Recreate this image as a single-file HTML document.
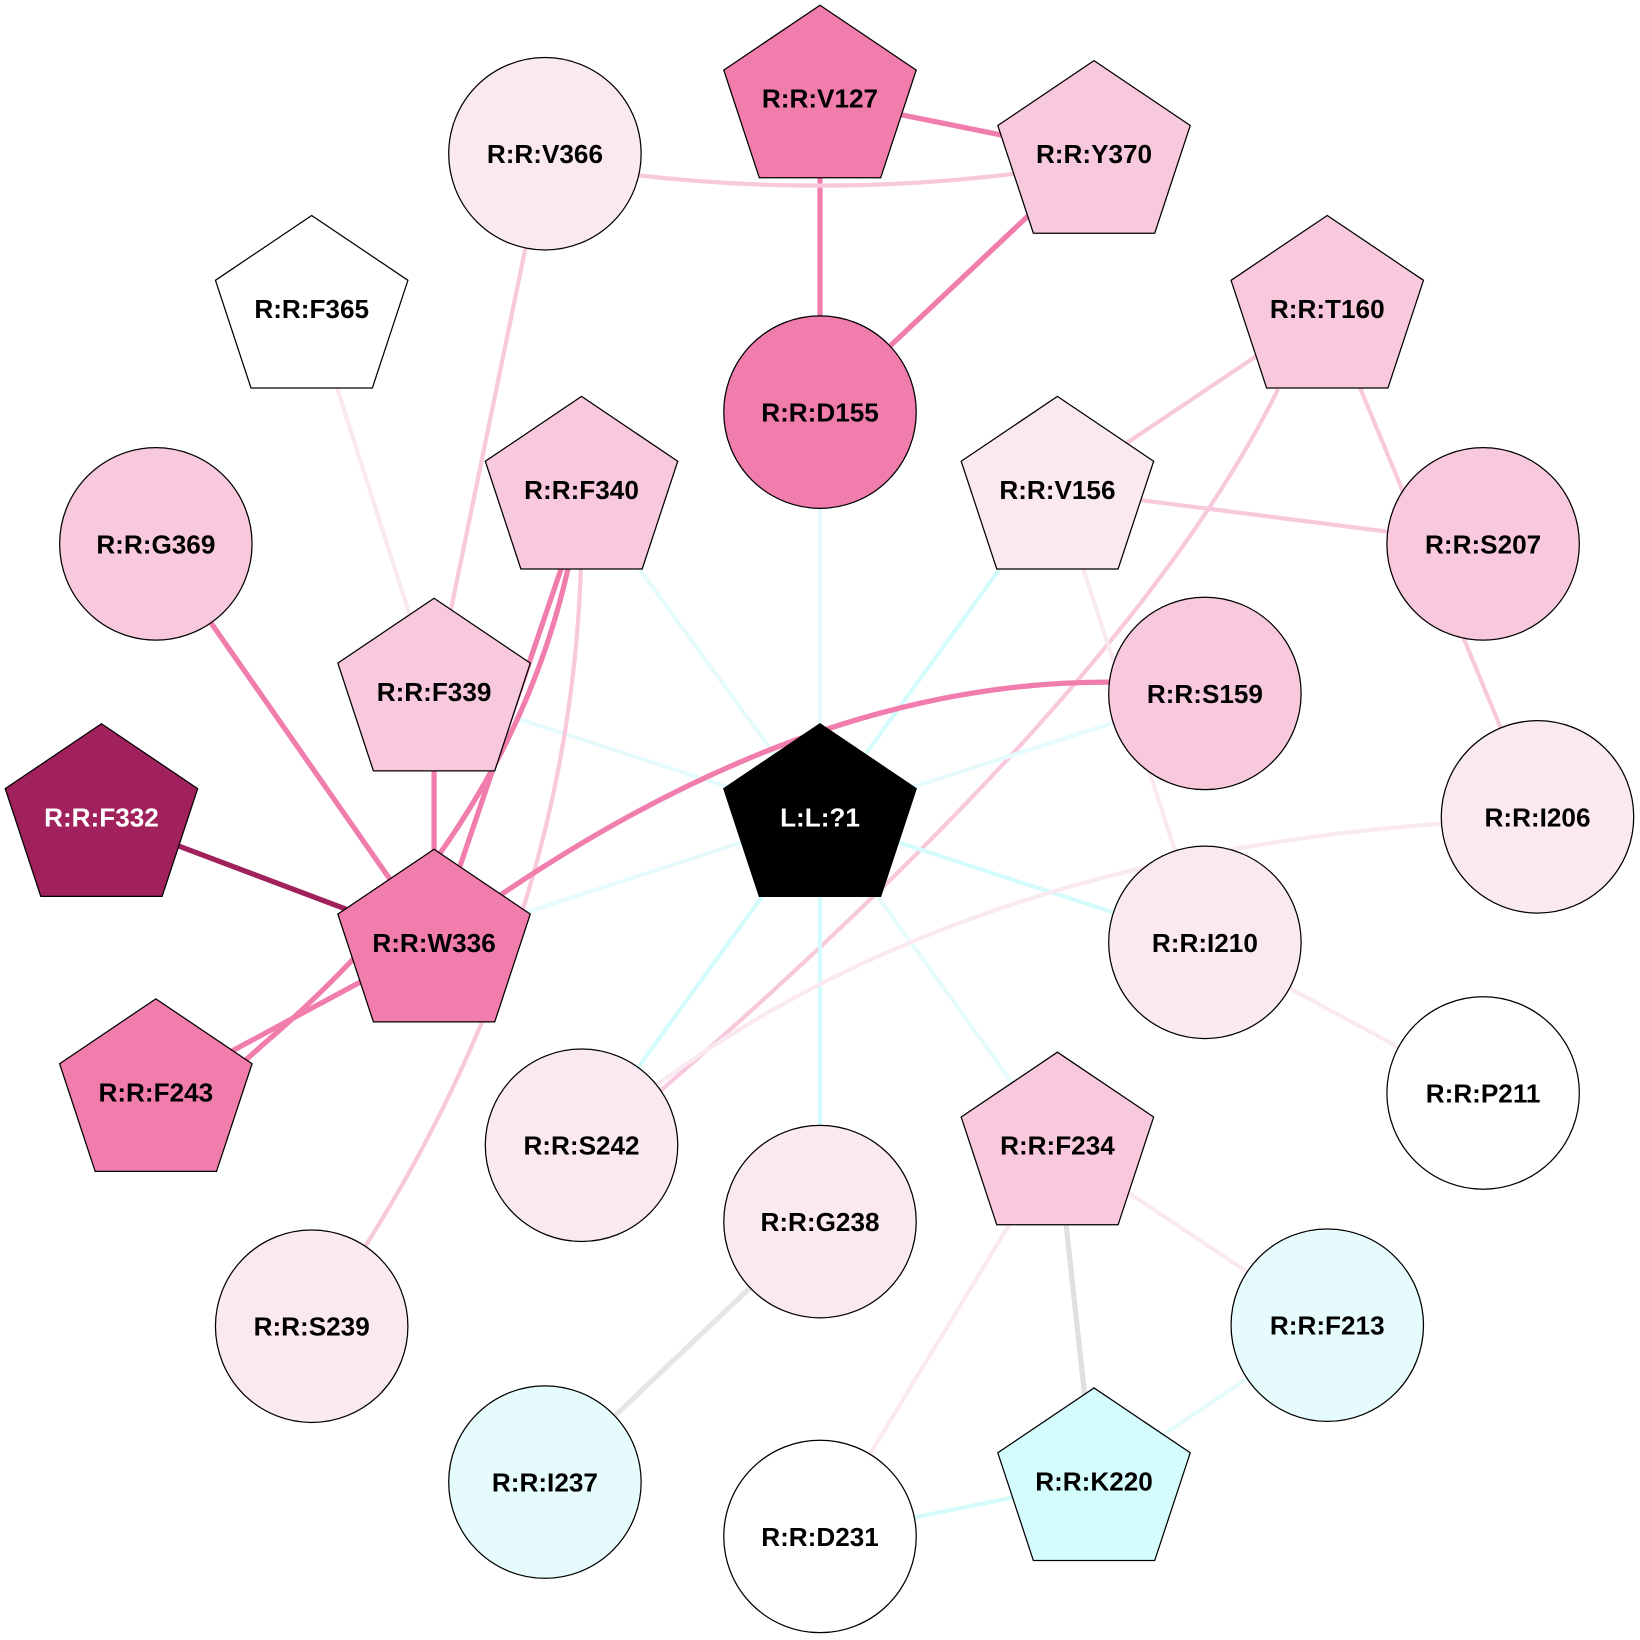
<!DOCTYPE html>
<html><head><meta charset="utf-8"><style>html,body{margin:0;padding:0;background:#fff}svg{display:block}</style></head>
<body>
<svg width="1640" height="1640" viewBox="0 0 1568 1568" xmlns="http://www.w3.org/2000/svg">
<g fill="none" stroke-linecap="butt">
<line x1="784" y1="94" x2="1046" y2="147" stroke="#f07dab" stroke-width="5"/>
<line x1="784" y1="94" x2="784" y2="394" stroke="#f07dab" stroke-width="5"/>
<line x1="1046" y1="147" x2="784" y2="394" stroke="#f07dab" stroke-width="5"/>
<path d="M521,155 Q784,200 1046,155" stroke="#f8c8dc" stroke-width="4"/>
<line x1="521" y1="147" x2="415" y2="661" stroke="#f8c8dc" stroke-width="4"/>
<line x1="298" y1="295" x2="415" y2="661" stroke="#fbe9f1" stroke-width="4"/>
<line x1="1269" y1="295" x2="1011" y2="468" stroke="#f8c8dc" stroke-width="4"/>
<path d="M1222,372 Q1080,660 600,1070" stroke="#f8c8dc" stroke-width="4"/>
<line x1="1269" y1="295" x2="1470" y2="781" stroke="#f8c8dc" stroke-width="4"/>
<line x1="1011" y1="468" x2="1418" y2="520" stroke="#f8c8dc" stroke-width="4"/>
<line x1="1011" y1="468" x2="1152" y2="901" stroke="#fbe9f1" stroke-width="4"/>
<line x1="556" y1="468" x2="784" y2="781" stroke="#e6fcfc" stroke-width="4"/>
<line x1="784" y1="394" x2="784" y2="781" stroke="#e6fcfc" stroke-width="4"/>
<line x1="1011" y1="468" x2="784" y2="781" stroke="#d4fcfc" stroke-width="4"/>
<line x1="415" y1="661" x2="784" y2="781" stroke="#e6fcfc" stroke-width="4"/>
<line x1="1152" y1="663" x2="784" y2="781" stroke="#e6fcfc" stroke-width="4"/>
<line x1="415" y1="901" x2="784" y2="781" stroke="#e6fcfc" stroke-width="4"/>
<line x1="784" y1="781" x2="1152" y2="901" stroke="#d4fcfc" stroke-width="4"/>
<line x1="784" y1="781" x2="556" y2="1095" stroke="#d4fcfc" stroke-width="4"/>
<line x1="784" y1="781" x2="784" y2="1168" stroke="#d4fcfc" stroke-width="4"/>
<line x1="784" y1="781" x2="1011" y2="1095" stroke="#e6fcfc" stroke-width="4"/>
<path d="M556,468 Q520,770 250,1000 L149,1090" stroke="#f07dab" stroke-width="5"/>
<line x1="548" y1="510" x2="415" y2="901" stroke="#f07dab" stroke-width="5"/>
<path d="M556,490 Q560,900 298,1268" stroke="#f8c8dc" stroke-width="4"/>
<line x1="149" y1="520" x2="415" y2="901" stroke="#f07dab" stroke-width="5"/>
<line x1="415" y1="661" x2="415" y2="901" stroke="#f07dab" stroke-width="5"/>
<path d="M1152,658 Q800,614 415,901" stroke="#f07dab" stroke-width="5"/>
<line x1="97" y1="781" x2="415" y2="901" stroke="#a0215c" stroke-width="5"/>
<line x1="415" y1="901" x2="149" y2="1044" stroke="#f07dab" stroke-width="5"/>
<path d="M1470,783 Q894,800 556,1095" stroke="#fbe9f1" stroke-width="4"/>
<line x1="1152" y1="901" x2="1418" y2="1045" stroke="#fbe9f1" stroke-width="4"/>
<line x1="1011" y1="1095" x2="1269" y2="1267" stroke="#fbe9f1" stroke-width="4"/>
<line x1="1011" y1="1095" x2="1046" y2="1416" stroke="#e0e0e0" stroke-width="5"/>
<line x1="1011" y1="1095" x2="784" y2="1469" stroke="#fbe9f1" stroke-width="4"/>
<line x1="784" y1="1168" x2="521" y2="1417" stroke="#e6e6e6" stroke-width="5"/>
<line x1="1269" y1="1267" x2="1046" y2="1416" stroke="#e6fcfc" stroke-width="4"/>
<line x1="1046" y1="1416" x2="784" y2="1469" stroke="#d4fcfc" stroke-width="4"/>
</g>
<g stroke="#000" stroke-width="1.2">
<circle cx="521" cy="147" r="92" fill="#fbe9f1"/>
<circle cx="784" cy="394" r="92" fill="#f07dab"/>
<circle cx="149" cy="520" r="92" fill="#f8c8dc"/>
<circle cx="1418" cy="520" r="92" fill="#f8c8dc"/>
<circle cx="1152" cy="663" r="92" fill="#f8c8dc"/>
<circle cx="1470" cy="781" r="92" fill="#fbe9f1"/>
<circle cx="1152" cy="901" r="92" fill="#fbe9f1"/>
<circle cx="1418" cy="1045" r="92" fill="#ffffff"/>
<circle cx="556" cy="1095" r="92" fill="#fbe9f1"/>
<circle cx="784" cy="1168" r="92" fill="#fbe9f1"/>
<circle cx="298" cy="1268" r="92" fill="#fbe9f1"/>
<circle cx="1269" cy="1267" r="92" fill="#e6fcfc"/>
<circle cx="521" cy="1417" r="92" fill="#e6fcfc"/>
<circle cx="784" cy="1469" r="92" fill="#ffffff"/>
<polygon transform="translate(784,94)" points="0,-89 92,-27 58,76 -58,76 -92,-27" fill="#f07dab"/>
<polygon transform="translate(1046,147)" points="0,-89 92,-27 58,76 -58,76 -92,-27" fill="#f8c8dc"/>
<polygon transform="translate(298,295)" points="0,-89 92,-27 58,76 -58,76 -92,-27" fill="#ffffff"/>
<polygon transform="translate(1269,295)" points="0,-89 92,-27 58,76 -58,76 -92,-27" fill="#f8c8dc"/>
<polygon transform="translate(556,468)" points="0,-89 92,-27 58,76 -58,76 -92,-27" fill="#f8c8dc"/>
<polygon transform="translate(1011,468)" points="0,-89 92,-27 58,76 -58,76 -92,-27" fill="#fbe9f1"/>
<polygon transform="translate(415,661)" points="0,-89 92,-27 58,76 -58,76 -92,-27" fill="#f8c8dc"/>
<polygon transform="translate(784,781)" points="0,-89 92,-27 58,76 -58,76 -92,-27" fill="#000000"/>
<polygon transform="translate(97,781)" points="0,-89 92,-27 58,76 -58,76 -92,-27" fill="#a0215c"/>
<polygon transform="translate(415,901)" points="0,-89 92,-27 58,76 -58,76 -92,-27" fill="#f07dab"/>
<polygon transform="translate(149,1044)" points="0,-89 92,-27 58,76 -58,76 -92,-27" fill="#f07dab"/>
<polygon transform="translate(1011,1095)" points="0,-89 92,-27 58,76 -58,76 -92,-27" fill="#f8c8dc"/>
<polygon transform="translate(1046,1416)" points="0,-89 92,-27 58,76 -58,76 -92,-27" fill="#d4fcfc"/>
</g>
<g font-family="Liberation Sans, Arial, sans-serif" font-weight="bold" font-size="25" text-anchor="middle" fill="#000">
<text x="784" y="103">R:R:V127</text>
<text x="1046" y="156">R:R:Y370</text>
<text x="521" y="156">R:R:V366</text>
<text x="298" y="304">R:R:F365</text>
<text x="1269" y="304">R:R:T160</text>
<text x="784" y="403">R:R:D155</text>
<text x="556" y="477">R:R:F340</text>
<text x="1011" y="477">R:R:V156</text>
<text x="149" y="529">R:R:G369</text>
<text x="1418" y="529">R:R:S207</text>
<text x="415" y="670">R:R:F339</text>
<text x="1152" y="672">R:R:S159</text>
<text x="784" y="790" fill="#fff">L:L:?1</text>
<text x="97" y="790" fill="#fff">R:R:F332</text>
<text x="1470" y="790">R:R:I206</text>
<text x="415" y="910">R:R:W336</text>
<text x="1152" y="910">R:R:I210</text>
<text x="149" y="1053">R:R:F243</text>
<text x="1418" y="1054">R:R:P211</text>
<text x="556" y="1104">R:R:S242</text>
<text x="1011" y="1104">R:R:F234</text>
<text x="784" y="1177">R:R:G238</text>
<text x="298" y="1277">R:R:S239</text>
<text x="1269" y="1276">R:R:F213</text>
<text x="521" y="1426">R:R:I237</text>
<text x="1046" y="1425">R:R:K220</text>
<text x="784" y="1478">R:R:D231</text>
</g>
</svg>
</body></html>
